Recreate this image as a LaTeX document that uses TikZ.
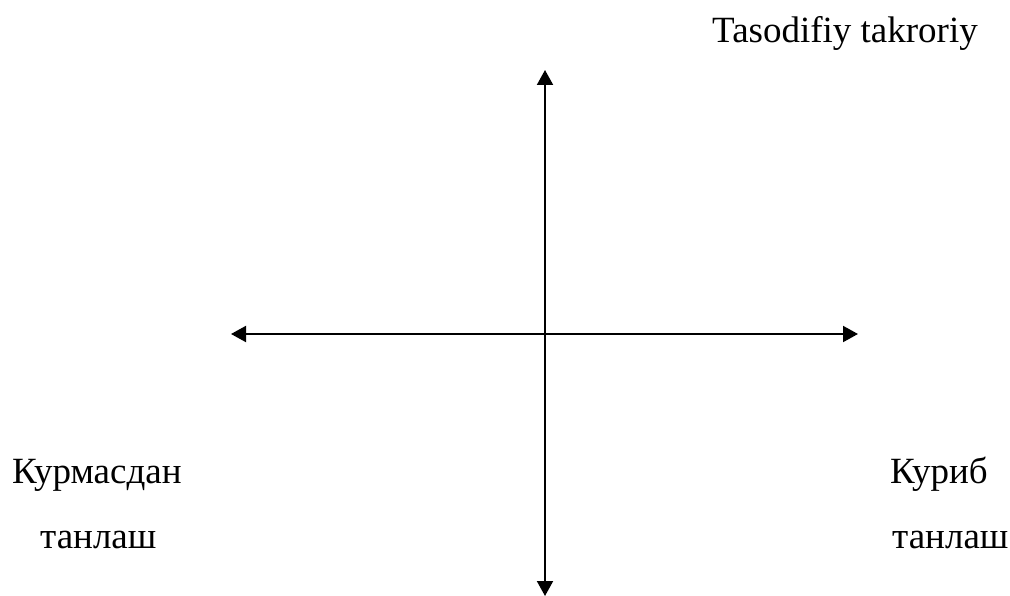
\documentclass[tikz,border=0pt]{standalone}
\usepackage{fontspec}
\setmainfont{Liberation Serif}
\usetikzlibrary{arrows.meta}
\begin{document}
\begin{tikzpicture}[x=1pt,y=-1pt,
  axis/.style={line width=2pt,-{Triangle[length=15pt,width=16pt]}},
  lbl/.style={anchor=base west,inner sep=0pt,font=\fontsize{37}{42}\selectfont}]
\useasboundingbox (0,0) rectangle (1010,596);
\coordinate (c) at (545,334);
\coordinate (top) at (545,70);
\coordinate (bot) at (545,596);
\coordinate (lft) at (231,334);
\coordinate (rgt) at (858,334);
\draw[axis] (c) -- (top);
\draw[axis] (c) -- (bot);
\draw[axis] (c) -- (lft);
\draw[axis] (c) -- (rgt);
\node[lbl] (t1) at (712,43) {Tasodifiy takroriy};
\node[lbl] (l1) at (12,483) {Курмасдан};
\node[lbl] (l2) at (40,548) {танлаш};
\node[lbl] (r1) at (890,483) {Куриб};
\node[lbl] (r2) at (892,548) {танлаш};
\end{tikzpicture}
\end{document}
